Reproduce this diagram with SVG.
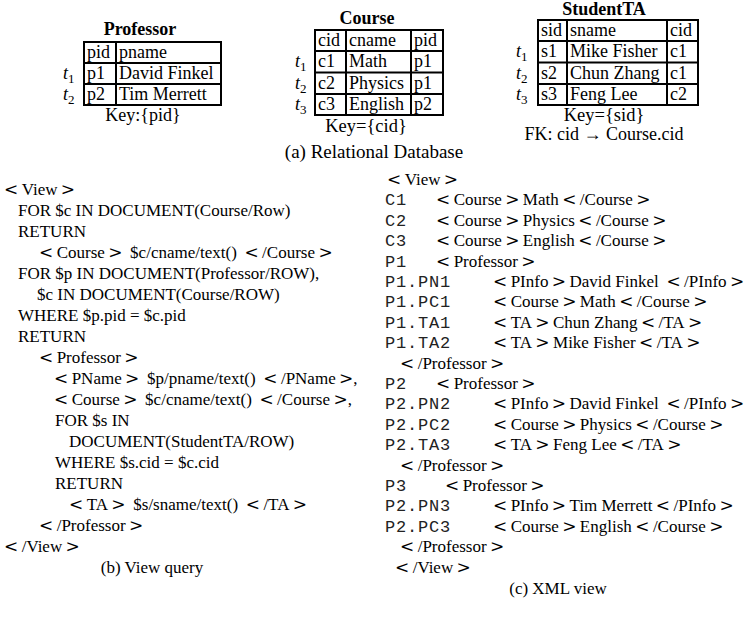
<svg xmlns="http://www.w3.org/2000/svg" width="751" height="619" viewBox="0 0 751 619">
<style>
text{font-family:"Liberation Serif","Times New Roman",serif;fill:#000}
.tb{font-size:18px}
.ttl{font-size:18px;font-weight:bold;text-anchor:middle}
.mid{text-anchor:middle}
.cd{font-size:17px}
.r{font-family:"DejaVu Serif",serif}
.mono{font-family:"Liberation Mono","Courier New",monospace;font-size:17px;letter-spacing:0.8px;fill:#222}
.it{font-style:italic}
.grid{fill:none;stroke:#000;stroke-width:2}
</style>
<rect width="751" height="619" fill="#fff"/>

<g id="professor">
<text class="ttl" x="140" y="35">Professor</text>
<rect class="grid" x="84" y="42" width="137" height="63"/>
<path class="grid" d="M84 63H221M84 84H221M116 42V105"/>
<g class="tb">
<text x="87" y="58">pid</text><text x="119" y="58">pname</text>
<text x="87" y="79">p1</text><text x="119" y="79">David Finkel</text>
<text x="87" y="100">p2</text><text x="119" y="100">Tim Merrett</text>
<text x="63" y="79"><tspan class="it">t</tspan><tspan dy="4" font-size="13">1</tspan></text>
<text x="63" y="100"><tspan class="it">t</tspan><tspan dy="4" font-size="13">2</tspan></text>
<text class="mid" x="143" y="121">Key:{pid}</text>
</g>
</g>

<g id="course">
<text class="ttl" x="367" y="24">Course</text>
<rect class="grid" x="315" y="30" width="128" height="85"/>
<path class="grid" d="M315 51H443M315 72.5H443M315 94H443M346 30V115M411 30V115"/>
<g class="tb">
<text x="318" y="46">cid</text><text x="349" y="46">cname</text><text x="414" y="46">pid</text>
<text x="318" y="67">c1</text><text x="349" y="67">Math</text><text x="414" y="67">p1</text>
<text x="318" y="88.5">c2</text><text x="349" y="88.5">Physics</text><text x="414" y="88.5">p1</text>
<text x="318" y="110">c3</text><text x="349" y="110">English</text><text x="414" y="110">p2</text>
<text x="295" y="67"><tspan class="it">t</tspan><tspan dy="4" font-size="13">1</tspan></text>
<text x="295" y="88.5"><tspan class="it">t</tspan><tspan dy="4" font-size="13">2</tspan></text>
<text x="295" y="110"><tspan class="it">t</tspan><tspan dy="4" font-size="13">3</tspan></text>
<text class="mid" x="366" y="132" font-size="18.5">Key={cid}</text>
<text class="mid" x="374" y="158" font-size="19">(a) Relational Database</text>
</g>
</g>

<g id="studentta">
<text class="ttl" x="604" y="15">StudentTA</text>
<rect class="grid" x="538" y="20" width="160" height="85"/>
<path class="grid" d="M538 41H698M538 62.5H698M538 84H698M567 20V105M667 20V105"/>
<g class="tb">
<text x="541" y="36">sid</text><text x="570" y="36">sname</text><text x="670" y="36">cid</text>
<text x="541" y="57">s1</text><text x="570" y="57">Mike Fisher</text><text x="670" y="57">c1</text>
<text x="541" y="78.5">s2</text><text x="570" y="78.5">Chun Zhang</text><text x="670" y="78.5">c1</text>
<text x="541" y="100">s3</text><text x="570" y="100">Feng Lee</text><text x="670" y="100">c2</text>
<text x="516" y="57"><tspan class="it">t</tspan><tspan dy="4" font-size="13">1</tspan></text>
<text x="516" y="78.5"><tspan class="it">t</tspan><tspan dy="4" font-size="13">2</tspan></text>
<text x="516" y="100"><tspan class="it">t</tspan><tspan dy="4" font-size="13">3</tspan></text>
<text class="mid" x="604" y="121" font-size="18.5">Key={sid}</text>
<text class="mid" x="604" y="140">FK: cid → Course.cid</text>
</g>
</g>

<g id="view-query">
<text class="cd" x="4" y="195"><tspan class="r">&lt;</tspan>&#x2009;View&#x2009;<tspan class="r">&gt;</tspan></text>
<text class="cd" x="18" y="216">FOR $c IN DOCUMENT(Course/Row)</text>
<text class="cd" x="18" y="237">RETURN</text>
<text class="cd" x="39" y="258"><tspan class="r">&lt;</tspan>&#x2009;Course&#x2009;<tspan class="r">&gt;</tspan>&#x2009; $c/cname/text() &#x2009;<tspan class="r">&lt;</tspan>&#x2009;/Course&#x2009;<tspan class="r">&gt;</tspan></text>
<text class="cd" x="18" y="279">FOR $p IN DOCUMENT(Professor/ROW),</text>
<text class="cd" x="37" y="300">$c IN DOCUMENT(Course/ROW)</text>
<text class="cd" x="18" y="321">WHERE $p.pid = $c.pid</text>
<text class="cd" x="18" y="342">RETURN</text>
<text class="cd" x="39" y="363"><tspan class="r">&lt;</tspan>&#x2009;Professor&#x2009;<tspan class="r">&gt;</tspan></text>
<text class="cd" x="54" y="384"><tspan class="r">&lt;</tspan>&#x2009;PName&#x2009;<tspan class="r">&gt;</tspan>&#x2009; $p/pname/text() &#x2009;<tspan class="r">&lt;</tspan>&#x2009;/PName&#x2009;<tspan class="r">&gt;</tspan>,</text>
<text class="cd" x="54" y="405"><tspan class="r">&lt;</tspan>&#x2009;Course&#x2009;<tspan class="r">&gt;</tspan>&#x2009; $c/cname/text() &#x2009;<tspan class="r">&lt;</tspan>&#x2009;/Course&#x2009;<tspan class="r">&gt;</tspan>,</text>
<text class="cd" x="55" y="426">FOR $s IN</text>
<text class="cd" x="69" y="447">DOCUMENT(StudentTA/ROW)</text>
<text class="cd" x="55" y="468">WHERE $s.cid = $c.cid</text>
<text class="cd" x="55" y="489">RETURN</text>
<text class="cd" x="69" y="510"><tspan class="r">&lt;</tspan>&#x2009;TA&#x2009;<tspan class="r">&gt;</tspan>&#x2009; $s/sname/text() &#x2009;<tspan class="r">&lt;</tspan>&#x2009;/TA&#x2009;<tspan class="r">&gt;</tspan></text>
<text class="cd" x="39" y="531"><tspan class="r">&lt;</tspan>&#x2009;/Professor&#x2009;<tspan class="r">&gt;</tspan></text>
<text class="cd" x="4" y="552"><tspan class="r">&lt;</tspan>&#x2009;/View&#x2009;<tspan class="r">&gt;</tspan></text>
<text class="cd mid" x="152" y="573">(b) View query</text>
</g>

<g id="xml-view">
<text class="cd" x="387" y="185"><tspan class="r">&lt;</tspan>&#x2009;View&#x2009;<tspan class="r">&gt;</tspan></text>
<text class="mono" x="385" y="205.4">C1</text><text class="cd" x="436" y="205.4"><tspan class="r">&lt;</tspan>&#x2009;Course&#x2009;<tspan class="r">&gt;</tspan>&#x2009;Math&#x2009;<tspan class="r">&lt;</tspan>&#x2009;/Course&#x2009;<tspan class="r">&gt;</tspan></text>
<text class="mono" x="385" y="225.8">C2</text><text class="cd" x="436" y="225.8"><tspan class="r">&lt;</tspan>&#x2009;Course&#x2009;<tspan class="r">&gt;</tspan>&#x2009;Physics&#x2009;<tspan class="r">&lt;</tspan>&#x2009;/Course&#x2009;<tspan class="r">&gt;</tspan></text>
<text class="mono" x="385" y="246.2">C3</text><text class="cd" x="436" y="246.2"><tspan class="r">&lt;</tspan>&#x2009;Course&#x2009;<tspan class="r">&gt;</tspan>&#x2009;English&#x2009;<tspan class="r">&lt;</tspan>&#x2009;/Course&#x2009;<tspan class="r">&gt;</tspan></text>
<text class="mono" x="385" y="266.6">P1</text><text class="cd" x="436" y="266.6"><tspan class="r">&lt;</tspan>&#x2009;Professor&#x2009;<tspan class="r">&gt;</tspan></text>
<text class="mono" x="385" y="287">P1.PN1</text><text class="cd" x="493" y="287"><tspan class="r">&lt;</tspan>&#x2009;PInfo&#x2009;<tspan class="r">&gt;</tspan>&#x2009;David Finkel &#x2009;<tspan class="r">&lt;</tspan>&#x2009;/PInfo&#x2009;<tspan class="r">&gt;</tspan></text>
<text class="mono" x="385" y="307.4">P1.PC1</text><text class="cd" x="493" y="307.4"><tspan class="r">&lt;</tspan>&#x2009;Course&#x2009;<tspan class="r">&gt;</tspan>&#x2009;Math&#x2009;<tspan class="r">&lt;</tspan>&#x2009;/Course&#x2009;<tspan class="r">&gt;</tspan></text>
<text class="mono" x="385" y="327.8">P1.TA1</text><text class="cd" x="493" y="327.8"><tspan class="r">&lt;</tspan>&#x2009;TA&#x2009;<tspan class="r">&gt;</tspan>&#x2009;Chun Zhang&#x2009;<tspan class="r">&lt;</tspan>&#x2009;/TA&#x2009;<tspan class="r">&gt;</tspan></text>
<text class="mono" x="385" y="348.2">P1.TA2</text><text class="cd" x="493" y="348.2"><tspan class="r">&lt;</tspan>&#x2009;TA&#x2009;<tspan class="r">&gt;</tspan>&#x2009;Mike Fisher&#x2009;<tspan class="r">&lt;</tspan>&#x2009;/TA&#x2009;<tspan class="r">&gt;</tspan></text>
<text class="cd" x="400" y="368.6"><tspan class="r">&lt;</tspan>&#x2009;/Professor&#x2009;<tspan class="r">&gt;</tspan></text>
<text class="mono" x="385" y="389">P2</text><text class="cd" x="436" y="389"><tspan class="r">&lt;</tspan>&#x2009;Professor&#x2009;<tspan class="r">&gt;</tspan></text>
<text class="mono" x="385" y="409.4">P2.PN2</text><text class="cd" x="493" y="409.4"><tspan class="r">&lt;</tspan>&#x2009;PInfo&#x2009;<tspan class="r">&gt;</tspan>&#x2009;David Finkel &#x2009;<tspan class="r">&lt;</tspan>&#x2009;/PInfo&#x2009;<tspan class="r">&gt;</tspan></text>
<text class="mono" x="385" y="429.8">P2.PC2</text><text class="cd" x="493" y="429.8"><tspan class="r">&lt;</tspan>&#x2009;Course&#x2009;<tspan class="r">&gt;</tspan>&#x2009;Physics&#x2009;<tspan class="r">&lt;</tspan>&#x2009;/Course&#x2009;<tspan class="r">&gt;</tspan></text>
<text class="mono" x="385" y="450.2">P2.TA3</text><text class="cd" x="493" y="450.2"><tspan class="r">&lt;</tspan>&#x2009;TA&#x2009;<tspan class="r">&gt;</tspan>&#x2009;Feng Lee&#x2009;<tspan class="r">&lt;</tspan>&#x2009;/TA&#x2009;<tspan class="r">&gt;</tspan></text>
<text class="cd" x="400" y="470.6"><tspan class="r">&lt;</tspan>&#x2009;/Professor&#x2009;<tspan class="r">&gt;</tspan></text>
<text class="mono" x="385" y="491">P3</text><text class="cd" x="445" y="491"><tspan class="r">&lt;</tspan>&#x2009;Professor&#x2009;<tspan class="r">&gt;</tspan></text>
<text class="mono" x="385" y="511.4">P2.PN3</text><text class="cd" x="493" y="511.4"><tspan class="r">&lt;</tspan>&#x2009;PInfo&#x2009;<tspan class="r">&gt;</tspan>&#x2009;Tim Merrett&#x2009;<tspan class="r">&lt;</tspan>&#x2009;/PInfo&#x2009;<tspan class="r">&gt;</tspan></text>
<text class="mono" x="385" y="531.8">P2.PC3</text><text class="cd" x="493" y="531.8"><tspan class="r">&lt;</tspan>&#x2009;Course&#x2009;<tspan class="r">&gt;</tspan>&#x2009;English&#x2009;<tspan class="r">&lt;</tspan>&#x2009;/Course&#x2009;<tspan class="r">&gt;</tspan></text>
<text class="cd" x="400" y="552.2"><tspan class="r">&lt;</tspan>&#x2009;/Professor&#x2009;<tspan class="r">&gt;</tspan></text>
<text class="cd" x="395" y="572.6"><tspan class="r">&lt;</tspan>&#x2009;/View&#x2009;<tspan class="r">&gt;</tspan></text>
<text class="cd mid" x="558" y="594">(c) XML view</text>
</g>
</svg>
